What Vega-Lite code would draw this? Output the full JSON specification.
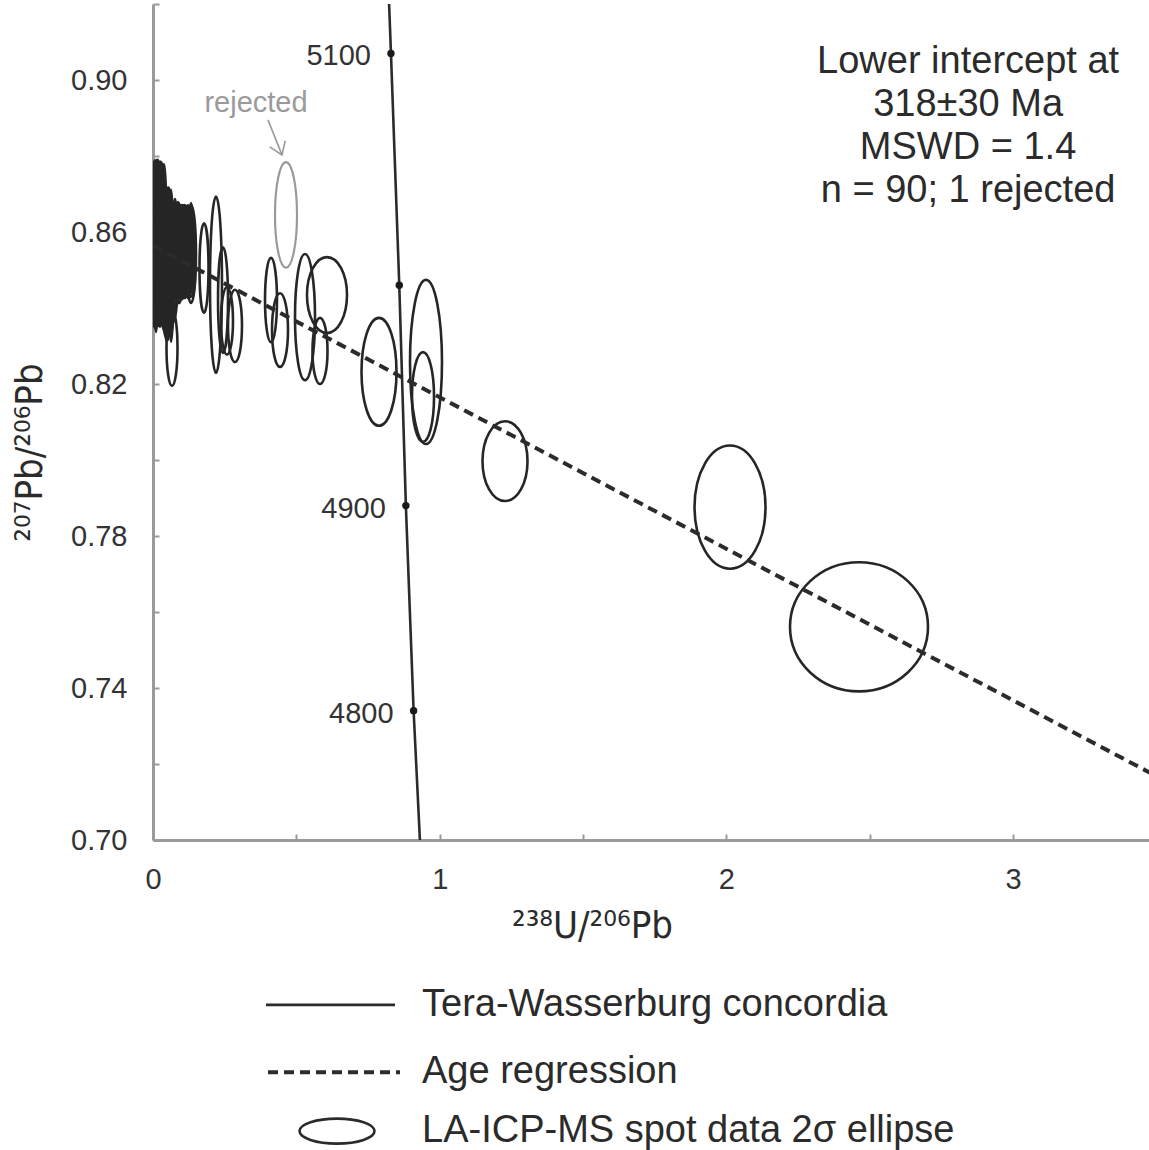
{
  "$schema": "https://vega.github.io/schema/vega-lite/v6.json",
  "width": 996,
  "height": 836,
  "autosize": {"type": "none"},
  "padding": {"left": 153, "top": 4, "right": 0, "bottom": 310},
  "background": "white",
  "config": {
    "view": {"stroke": null},
    "font": "Liberation Sans",
    "axis": {
      "grid": false,
      "domainColor": "#9a9a9a",
      "domainWidth": 3,
      "tickColor": "#9a9a9a",
      "tickWidth": 2,
      "tickSize": -6,
      "labelFont": "Liberation Sans",
      "labelFontSize": 29,
      "labelColor": "#333333",
      "labelFlush": false,
      "titleFont": "DejaVu Sans Condensed, Noto Sans",
      "titleFontSize": 38,
      "titleFontWeight": "normal",
      "titleColor": "#2b2b2b"
    }
  },
  "datasets": {
    "ellipses": [
      {"x": 0.0070, "y": 0.8568, "ex": 0.0174, "ey": 0.0221},
      {"x": 0.0140, "y": 0.8579, "ex": 0.0174, "ey": 0.0211},
      {"x": 0.0209, "y": 0.8558, "ex": 0.0174, "ey": 0.0205},
      {"x": 0.0279, "y": 0.8584, "ex": 0.0174, "ey": 0.0200},
      {"x": 0.0349, "y": 0.8553, "ex": 0.0174, "ey": 0.0195},
      {"x": 0.0174, "y": 0.8566, "ex": 0.0140, "ey": 0.0158},
      {"x": 0.0105, "y": 0.8553, "ex": 0.0105, "ey": 0.0132},
      {"x": 0.0244, "y": 0.8568, "ex": 0.0105, "ey": 0.0105},
      {"x": 0.0314, "y": 0.8568, "ex": 0.0105, "ey": 0.0066},
      {"x": 0.0419, "y": 0.8526, "ex": 0.0209, "ey": 0.0189},
      {"x": 0.0523, "y": 0.8521, "ex": 0.0174, "ey": 0.0195},
      {"x": 0.0488, "y": 0.8532, "ex": 0.0140, "ey": 0.0145},
      {"x": 0.0593, "y": 0.8505, "ex": 0.0174, "ey": 0.0174},
      {"x": 0.0698, "y": 0.8521, "ex": 0.0174, "ey": 0.0158},
      {"x": 0.0802, "y": 0.8539, "ex": 0.0174, "ey": 0.0132},
      {"x": 0.0907, "y": 0.8539, "ex": 0.0174, "ey": 0.0126},
      {"x": 0.1012, "y": 0.8547, "ex": 0.0174, "ey": 0.0124},
      {"x": 0.1116, "y": 0.8553, "ex": 0.0174, "ey": 0.0118},
      {"x": 0.1221, "y": 0.8547, "ex": 0.0174, "ey": 0.0121},
      {"x": 0.1325, "y": 0.8542, "ex": 0.0174, "ey": 0.0129},
      {"x": 0.0663, "y": 0.8295, "ex": 0.0192, "ey": 0.0100},
      {"x": 0.1291, "y": 0.8476, "ex": 0.0174, "ey": 0.0047},
      {"x": 0.0384, "y": 0.8563, "ex": 0.0140, "ey": 0.0132},
      {"x": 0.0453, "y": 0.8566, "ex": 0.0105, "ey": 0.0092},
      {"x": 0.0732, "y": 0.8526, "ex": 0.0105, "ey": 0.0105},
      {"x": 0.0872, "y": 0.8532, "ex": 0.0105, "ey": 0.0079},
      {"x": 0.1081, "y": 0.8539, "ex": 0.0105, "ey": 0.0079},
      {"x": 0.1186, "y": 0.8553, "ex": 0.0105, "ey": 0.0066},
      {"x": 0.0035, "y": 0.8568, "ex": 0.0087, "ey": 0.0216},
      {"x": 0.0070, "y": 0.8579, "ex": 0.0087, "ey": 0.0184},
      {"x": 0.0105, "y": 0.8558, "ex": 0.0087, "ey": 0.0221},
      {"x": 0.0140, "y": 0.8568, "ex": 0.0087, "ey": 0.0174},
      {"x": 0.0174, "y": 0.8579, "ex": 0.0087, "ey": 0.0211},
      {"x": 0.0209, "y": 0.8558, "ex": 0.0087, "ey": 0.0195},
      {"x": 0.0244, "y": 0.8568, "ex": 0.0087, "ey": 0.0218},
      {"x": 0.0279, "y": 0.8579, "ex": 0.0087, "ey": 0.0163},
      {"x": 0.0314, "y": 0.8558, "ex": 0.0087, "ey": 0.0205},
      {"x": 0.0349, "y": 0.8568, "ex": 0.0087, "ey": 0.0189},
      {"x": 0.0384, "y": 0.8568, "ex": 0.0087, "ey": 0.0211},
      {"x": 0.0419, "y": 0.8521, "ex": 0.0087, "ey": 0.0195},
      {"x": 0.0453, "y": 0.8516, "ex": 0.0087, "ey": 0.0200},
      {"x": 0.0488, "y": 0.8511, "ex": 0.0087, "ey": 0.0189},
      {"x": 0.0523, "y": 0.8516, "ex": 0.0087, "ey": 0.0200},
      {"x": 0.0558, "y": 0.8521, "ex": 0.0087, "ey": 0.0195},
      {"x": 0.0593, "y": 0.8516, "ex": 0.0087, "ey": 0.0189},
      {"x": 0.0628, "y": 0.8511, "ex": 0.0087, "ey": 0.0200},
      {"x": 0.0663, "y": 0.8550, "ex": 0.0087, "ey": 0.0129},
      {"x": 0.0698, "y": 0.8542, "ex": 0.0087, "ey": 0.0124},
      {"x": 0.0732, "y": 0.8550, "ex": 0.0087, "ey": 0.0118},
      {"x": 0.0767, "y": 0.8558, "ex": 0.0087, "ey": 0.0129},
      {"x": 0.0802, "y": 0.8550, "ex": 0.0087, "ey": 0.0124},
      {"x": 0.0837, "y": 0.8542, "ex": 0.0087, "ey": 0.0121},
      {"x": 0.0872, "y": 0.8550, "ex": 0.0087, "ey": 0.0129},
      {"x": 0.0907, "y": 0.8558, "ex": 0.0087, "ey": 0.0118},
      {"x": 0.0942, "y": 0.8550, "ex": 0.0087, "ey": 0.0121},
      {"x": 0.0977, "y": 0.8542, "ex": 0.0087, "ey": 0.0116},
      {"x": 0.1012, "y": 0.8550, "ex": 0.0087, "ey": 0.0118},
      {"x": 0.1046, "y": 0.8558, "ex": 0.0087, "ey": 0.0111},
      {"x": 0.1081, "y": 0.8550, "ex": 0.0087, "ey": 0.0121},
      {"x": 0.1116, "y": 0.8542, "ex": 0.0087, "ey": 0.0116},
      {"x": 0.1151, "y": 0.8550, "ex": 0.0087, "ey": 0.0118},
      {"x": 0.1186, "y": 0.8558, "ex": 0.0087, "ey": 0.0105},
      {"x": 0.1221, "y": 0.8550, "ex": 0.0087, "ey": 0.0121},
      {"x": 0.1256, "y": 0.8542, "ex": 0.0087, "ey": 0.0116},
      {"x": 0.1290, "y": 0.8550, "ex": 0.0087, "ey": 0.0111},
      {"x": 0.1325, "y": 0.8558, "ex": 0.0087, "ey": 0.0118},
      {"x": 0.1360, "y": 0.8550, "ex": 0.0087, "ey": 0.0105},
      {"x": 0.1779, "y": 0.8505, "ex": 0.0157, "ey": 0.0118},
      {"x": 0.2197, "y": 0.8461, "ex": 0.0209, "ey": 0.0232},
      {"x": 0.2442, "y": 0.8421, "ex": 0.0174, "ey": 0.0139},
      {"x": 0.2581, "y": 0.8366, "ex": 0.0209, "ey": 0.0089},
      {"x": 0.2860, "y": 0.8353, "ex": 0.0244, "ey": 0.0095},
      {"x": 0.4116, "y": 0.8421, "ex": 0.0209, "ey": 0.0111},
      {"x": 0.4430, "y": 0.8342, "ex": 0.0279, "ey": 0.0097},
      {"x": 0.5302, "y": 0.8376, "ex": 0.0349, "ey": 0.0166},
      {"x": 0.6069, "y": 0.8434, "ex": 0.0698, "ey": 0.0100},
      {"x": 0.5825, "y": 0.8287, "ex": 0.0262, "ey": 0.0087},
      {"x": 0.7883, "y": 0.8232, "ex": 0.0610, "ey": 0.0142},
      {"x": 0.9522, "y": 0.8258, "ex": 0.0558, "ey": 0.0216},
      {"x": 0.9418, "y": 0.8166, "ex": 0.0384, "ey": 0.0118},
      {"x": 1.2278, "y": 0.7997, "ex": 0.0785, "ey": 0.0105},
      {"x": 2.0126, "y": 0.7876, "ex": 0.1238, "ey": 0.0162},
      {"x": 2.4625, "y": 0.7561, "ex": 0.2407, "ey": 0.0170}
    ],
    "rejected": [
      {"x": 0.4639, "y": 0.8645, "ex": 0.0384, "ey": 0.0139}
    ],
    "regression": [
      {"x": 0.0, "y": 0.8564},
      {"x": 3.5, "y": 0.7168}
    ],
    "concordia": [
      {"x": 0.823, "y": 0.921},
      {"x": 0.830, "y": 0.907},
      {"x": 0.859, "y": 0.846},
      {"x": 0.882, "y": 0.788},
      {"x": 0.909, "y": 0.734},
      {"x": 0.931, "y": 0.700}
    ],
    "ages": [
      {"age": 5100, "x": 0.830, "y": 0.907},
      {"age": 5000, "x": 0.859, "y": 0.846},
      {"age": 4900, "x": 0.882, "y": 0.788},
      {"age": 4800, "x": 0.909, "y": 0.734}
    ]
  },
  "layer": [
    {
      "data": {"name": "ellipses"},
      "mark": {
        "type": "point",
        "filled": false,
        "size": 4,
        "opacity": 1,
        "clip": true,
        "stroke": "#262626",
        "strokeWidth": 2.6,
        "shape": {"expr": "'M' + (-datum.ex * 286.7) + ',0A' + (datum.ex * 286.7) + ',' + (datum.ey * 3800) + ',0,1,0,' + (datum.ex * 286.7) + ',0A' + (datum.ex * 286.7) + ',' + (datum.ey * 3800) + ',0,1,0,' + (-datum.ex * 286.7) + ',0Z'"}
      },
      "encoding": {
        "x": {
          "field": "x", "type": "quantitative",
          "scale": {"domain": [0, 3.474], "nice": false, "zero": false},
          "axis": {
            "orient": "bottom",
            "values": [0, 0.5, 1, 1.5, 2, 2.5, 3],
            "labelExpr": "datum.value % 1 === 0 ? format(datum.value, 'd') : ''",
            "labelPadding": 31,
            "title": "²³⁸U/²⁰⁶Pb",
            "titleX": 439,
            "titleY": 86,
            "titleBaseline": "middle"
          }
        },
        "y": {
          "field": "y", "type": "quantitative",
          "scale": {"domain": [0.7, 0.92], "nice": false, "zero": false},
          "axis": {
            "orient": "left",
            "values": [0.70, 0.72, 0.74, 0.76, 0.78, 0.80, 0.82, 0.84, 0.86, 0.88, 0.90, 0.92],
            "labelExpr": "round(datum.value * 100) % 4 === 2 ? format(datum.value, '.2f') : ''",
            "labelPadding": 32,
            "title": "²⁰⁷Pb/²⁰⁶Pb",
            "titleX": -123,
            "titleY": 448,
            "titleAngle": -90,
            "titleBaseline": "middle",
            "titleAlign": "center"
          }
        }
      }
    },
    {
      "data": {"name": "rejected"},
      "mark": {
        "type": "point",
        "filled": false,
        "size": 4,
        "opacity": 1,
        "clip": true,
        "stroke": "#9a9a9a",
        "strokeWidth": 2.2,
        "shape": {"expr": "'M' + (-datum.ex * 286.7) + ',0A' + (datum.ex * 286.7) + ',' + (datum.ey * 3800) + ',0,1,0,' + (datum.ex * 286.7) + ',0A' + (datum.ex * 286.7) + ',' + (datum.ey * 3800) + ',0,1,0,' + (-datum.ex * 286.7) + ',0Z'"}
      },
      "encoding": {
        "x": {"field": "x", "type": "quantitative"},
        "y": {"field": "y", "type": "quantitative"}
      }
    },
    {
      "data": {"name": "regression"},
      "mark": {"type": "line", "clip": true, "color": "#2b2b2b", "strokeWidth": 4, "strokeDash": [10, 6]},
      "encoding": {
        "x": {"field": "x", "type": "quantitative"},
        "y": {"field": "y", "type": "quantitative"}
      }
    },
    {
      "data": {"name": "concordia"},
      "mark": {"type": "line", "clip": true, "color": "#2b2b2b", "strokeWidth": 2.6},
      "encoding": {
        "x": {"field": "x", "type": "quantitative"},
        "y": {"field": "y", "type": "quantitative"}
      }
    },
    {
      "data": {"name": "ages"},
      "mark": {"type": "point", "filled": true, "size": 55, "opacity": 1, "color": "#1a1a1a"},
      "encoding": {
        "x": {"field": "x", "type": "quantitative"},
        "y": {"field": "y", "type": "quantitative"}
      }
    },
    {
      "data": {"name": "ages"},
      "transform": [{"filter": "datum.age !== 5000"}],
      "mark": {"type": "text", "align": "right", "baseline": "middle", "dx": -20, "dy": 3, "fontSize": 29, "color": "#333333", "font": "Liberation Sans"},
      "encoding": {
        "x": {"field": "x", "type": "quantitative"},
        "y": {"field": "y", "type": "quantitative"},
        "text": {"field": "age", "type": "nominal"}
      }
    },
    {
      "data": {"values": [{}]},
      "mark": {"type": "text", "align": "center", "baseline": "alphabetic", "fontSize": 38, "lineHeight": 43, "color": "#2b2b2b", "font": "Liberation Sans"},
      "encoding": {
        "x": {"datum": 2.843},
        "y": {"datum": 0.9018},
        "text": {"value": ["Lower intercept at", "318±30 Ma", "MSWD = 1.4", "n = 90; 1 rejected"]}
      }
    },
    {
      "data": {"values": [{}]},
      "mark": {"type": "text", "align": "center", "baseline": "middle", "fontSize": 29, "color": "#9a9a9a", "font": "Liberation Sans"},
      "encoding": {
        "x": {"datum": 0.3593},
        "y": {"datum": 0.8939},
        "text": {"value": "rejected"}
      }
    },
    {
      "data": {"values": [{}]},
      "mark": {"type": "rule", "color": "#9a9a9a", "strokeWidth": 1.6},
      "encoding": {
        "x": {"datum": 0.4011},
        "y": {"datum": 0.8895},
        "x2": {"datum": 0.4499},
        "y2": {"datum": 0.8803}
      }
    },
    {
      "data": {"values": [{}]},
      "mark": {"type": "point", "filled": false, "opacity": 1, "shape": "M-0.7,-1L0,0L0.7,-1", "size": 576, "angle": 338, "stroke": "#9a9a9a", "strokeWidth": 1.6},
      "encoding": {
        "x": {"datum": 0.4499},
        "y": {"datum": 0.8803}
      }
    },
    {
      "data": {"values": [{}]},
      "mark": {"type": "rule", "color": "#2b2b2b", "strokeWidth": 2.6},
      "encoding": {
        "x": {"datum": 0.3941},
        "x2": {"datum": 0.8441},
        "y": {"datum": 0.6566}
      }
    },
    {
      "data": {"values": [{}]},
      "mark": {"type": "rule", "color": "#2b2b2b", "strokeWidth": 4, "strokeDash": [10, 6]},
      "encoding": {
        "x": {"datum": 0.4011},
        "x2": {"datum": 0.8616},
        "y": {"datum": 0.6389}
      }
    },
    {
      "data": {"values": [{}]},
      "mark": {"type": "point", "filled": false, "opacity": 1, "size": 4, "stroke": "#2b2b2b", "strokeWidth": 2.6, "shape": "M-37.5,0A37.5,12.5,0,1,0,37.5,0A37.5,12.5,0,1,0,-37.5,0Z"},
      "encoding": {
        "x": {"datum": 0.6418},
        "y": {"datum": 0.6234}
      }
    },
    {
      "data": {"values": [{"label": "Tera-Wasserburg concordia"}]},
      "mark": {"type": "text", "align": "left", "baseline": "middle", "fontSize": 38, "color": "#2b2b2b", "font": "Liberation Sans"},
      "encoding": {
        "x": {"datum": 0.9383},
        "y": {"datum": 0.6566},
        "text": {"field": "label"}
      }
    },
    {
      "data": {"values": [{"label": "Age regression"}]},
      "mark": {"type": "text", "align": "left", "baseline": "middle", "fontSize": 38, "color": "#2b2b2b", "font": "Liberation Sans"},
      "encoding": {
        "x": {"datum": 0.9383},
        "y": {"datum": 0.6389},
        "text": {"field": "label"}
      }
    },
    {
      "data": {"values": [{"label": "LA-ICP-MS spot data 2σ ellipse"}]},
      "mark": {"type": "text", "align": "left", "baseline": "middle", "fontSize": 38, "color": "#2b2b2b", "font": "Liberation Sans"},
      "encoding": {
        "x": {"datum": 0.9383},
        "y": {"datum": 0.6234},
        "text": {"field": "label"}
      }
    }
  ]
}
